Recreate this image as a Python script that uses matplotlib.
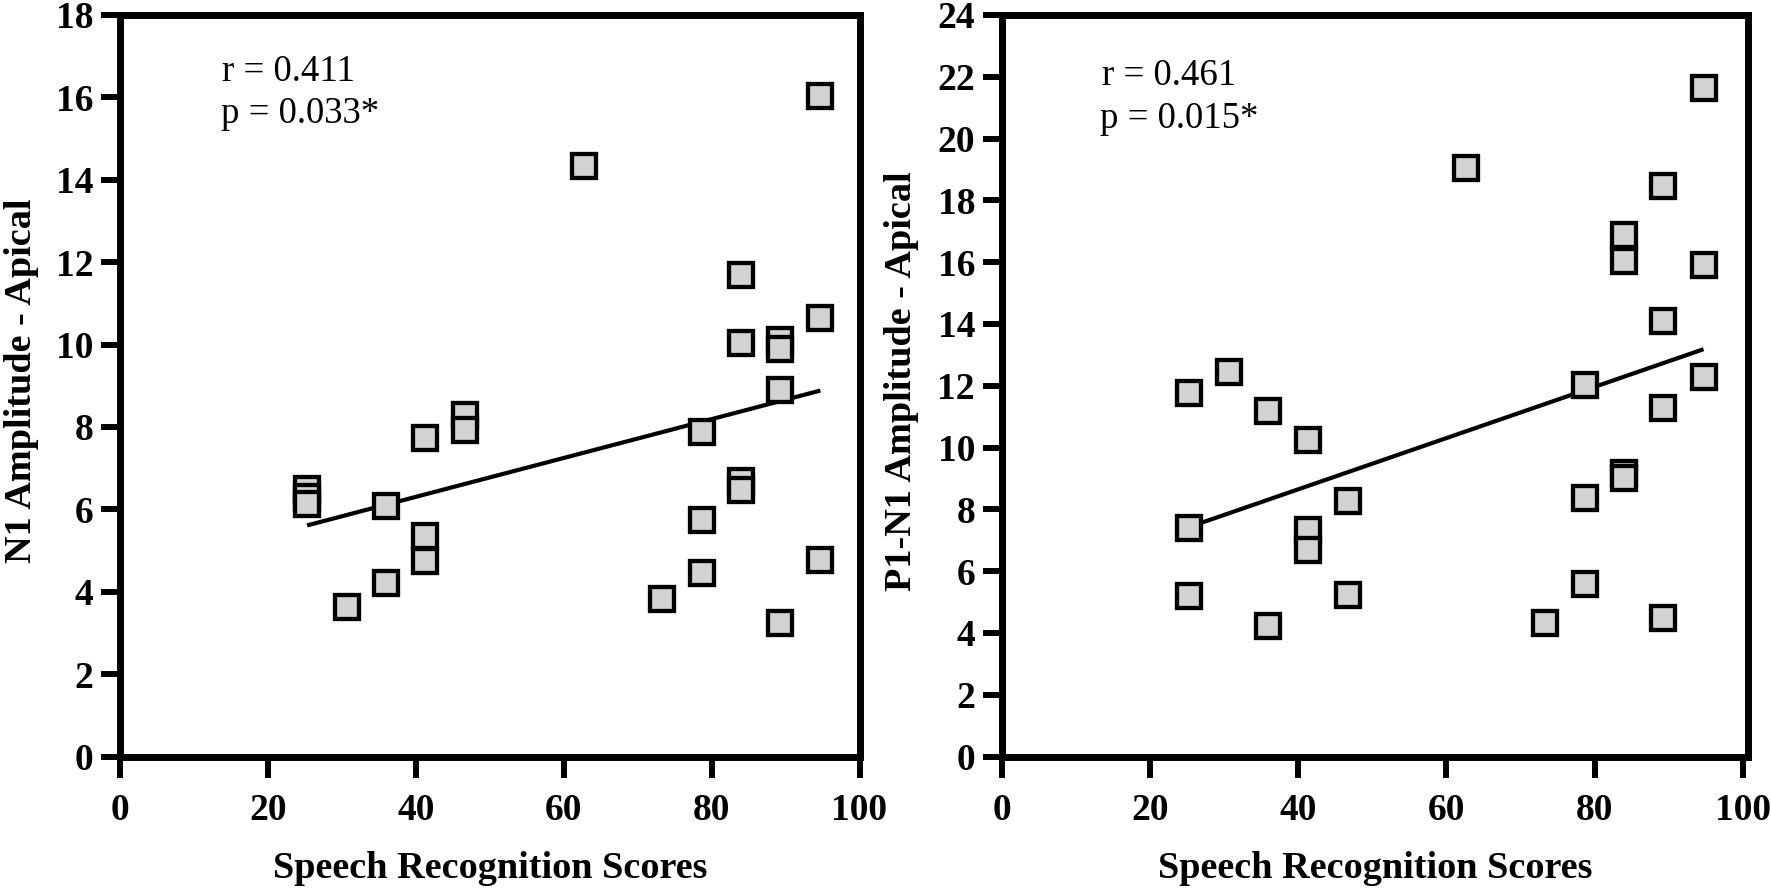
import numpy as np
import matplotlib
matplotlib.use("Agg")
import matplotlib.pyplot as plt

# ---- data ----
scores_left = [25.3, 25.3, 25.3, 30.7, 36.0, 36.0, 41.3, 41.3, 41.3, 46.7, 46.7,
               62.7, 73.3, 78.7, 78.7, 78.7, 84.0, 84.0, 84.0, 84.0,
               89.3, 89.3, 89.3, 89.3, 94.7, 94.7, 94.7]
n1_amp = [6.49, 6.31, 6.12, 3.63, 6.07, 4.22, 7.72, 5.36, 4.75, 8.29, 7.92,
          14.33, 3.82, 7.87, 5.74, 4.46, 11.68, 10.03, 6.69, 6.46,
          10.11, 9.90, 8.89, 3.25, 16.03, 10.64, 4.78]

scores_right = [25.3, 25.3, 25.3, 30.7, 36.0, 36.0, 41.3, 41.3, 41.3, 46.7, 46.7,
                62.7, 73.3, 78.7, 78.7, 78.7, 84.0, 84.0, 84.0, 84.0,
                89.3, 89.3, 89.3, 89.3, 94.7, 94.7, 94.7]
p1n1_amp = [11.78, 7.38, 5.21, 12.46, 11.17, 4.24, 10.24, 7.34, 6.69, 8.28, 5.23,
            19.05, 4.33, 12.01, 8.36, 5.58, 16.87, 16.05, 9.17, 9.03,
            18.46, 14.08, 11.28, 4.48, 21.64, 15.92, 12.28]

x_ticks = [0, 20, 40, 60, 80, 100]
y_ticks_left = list(range(0, 19, 2))
y_ticks_right = list(range(0, 25, 2))

stats_left = ["r = 0.411", "p = 0.033*"]
stats_right = ["r = 0.461", "p = 0.015*"]
xlabel = "Speech Recognition Scores"
ylabel_left = "N1 Amplitude - Apical"
ylabel_right = "P1-N1 Amplitude - Apical"

# ---- styling ----
SERIF = ["Liberation Serif", "DejaVu Serif"]
plt.rcParams["font.family"] = SERIF

W, H = 1771, 889
fig = plt.figure(figsize=(W / 100, H / 100), dpi=100)
fig.patch.set_facecolor("white")

bottom = (H - 756.5) / H
height = (756.5 - 15) / H
ax_l = fig.add_axes([120 / W, bottom, (859.5 - 120) / W, height])
ax_r = fig.add_axes([1001.5 / W, bottom, (1748 - 1001.5) / W, height])


def style(ax, xs, ys, yticks, xmax, ymax, stats, sx, sy, ylabel, ylab_x):
    ax.plot(xs, ys, linestyle="none", marker="s", markersize=17,
            markerfacecolor="#d3d3d3", markeredgecolor="black",
            markeredgewidth=3.1, zorder=3)
    xs_a = np.asarray(xs)
    ys_a = np.asarray(ys)
    slope, icpt = np.polyfit(xs_a, ys_a, 1)
    xl = np.array([xs_a.min(), xs_a.max()])
    ax.plot(xl, slope * xl + icpt, color="black", linewidth=3.0, zorder=2,
            solid_capstyle="butt")
    ax.set_xlim(0, xmax)
    ax.set_ylim(0, ymax)
    ax.set_xticks(x_ticks)
    ax.set_yticks(yticks)
    for sp in ax.spines.values():
        sp.set_linewidth(5.0)
        sp.set_color("black")
    ax.tick_params(axis="x", direction="out", length=15, width=4.3, pad=11,
                   labelsize=27, colors="black")
    ax.tick_params(axis="y", direction="out", length=14, width=4.3, pad=5,
                   labelsize=27, colors="black")
    for lab in ax.get_xticklabels() + ax.get_yticklabels():
        lab.set_fontweight("bold")
        lab.set_family(SERIF)
    ax.text(sx[0], sy[0], stats[0], transform=ax.transAxes, fontsize=26.5,
            ha="left", va="baseline", family=SERIF)
    ax.text(sx[1], sy[1], stats[1], transform=ax.transAxes, fontsize=26.5,
            ha="left", va="baseline", family=SERIF)
    pos = ax.get_position()
    fig.text((pos.x0 + pos.x1) / 2, 1 - 868 / H, xlabel, ha="center",
             va="center", fontsize=27.5, fontweight="bold", family=SERIF)
    fig.text(ylab_x / W, 1 - 381 / H, ylabel, ha="center", va="center",
             rotation=90, fontsize=27.5, fontweight="bold", family=SERIF)


style(ax_l, scores_left, n1_amp, y_ticks_left, 100, 18, stats_left,
      (0.138, 0.136), (0.9105, 0.8544), ylabel_left, 22)
style(ax_r, scores_right, p1n1_amp, y_ticks_right, 100.7, 24, stats_right,
      (0.1346, 0.132), (0.9056, 0.848), ylabel_right, 902)

fig.savefig("out.png", dpi=100, facecolor="white")
